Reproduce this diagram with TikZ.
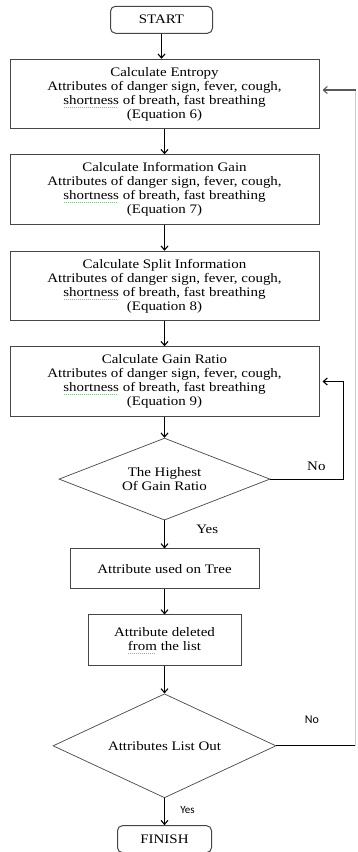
\documentclass[tikz,border=0pt]{standalone}
\usepackage{fontspec}
\setmainfont[FakeStretch=1.15]{Liberation Serif}
\newfontfamily\labelsans{Carlito}
\usepackage{xcolor}
\usetikzlibrary{shapes.geometric, arrows.meta, positioning}
\definecolor{boxgray}{RGB}{70, 70, 70}
\definecolor{loopgray}{RGB}{205, 205, 205}
\definecolor{spellgreen}{RGB}{130, 195, 130}
\newlength{\spellwd}
\newcommand{\spellmark}[1]{\settowidth{\spellwd}{#1}\rlap{\textcolor{spellgreen}{\raisebox{-3pt}{\hbox to\spellwd{\leaders\hbox to 2pt{\hss\vrule width 1pt height 0.6pt\hss}\hfill}}}}#1}

\begin{document}
\begin{tikzpicture}[
    x=1pt, y=-1pt,
    node distance=25pt,
    font=\fontsize{13}{14}\selectfont,
    box/.style={rectangle, draw=boxgray, line width=1pt, minimum width=309pt, minimum height=69.5pt, text centered, align=center, inner sep=2pt},
    term/.style={box, rounded corners=5pt, minimum height=27pt},
    decision/.style={diamond, draw=boxgray, line width=0.7pt, align=center, inner sep=1pt},
    arrow/.style={-{Straight Barb[length=4pt, width=7pt]}, line width=1.1pt},
    link/.style={line width=1.1pt}
]

\useasboundingbox (0,0) rectangle (357,852);

\node[box] (entropy) at (164.5,94) {Calculate Entropy\\Attributes of danger sign, fever, cough,\\\spellmark{shortness} of breath, fast breathing\\(Equation 6)};
\node[term, minimum width=102pt, above=25pt of entropy, xshift=-3pt] (start) {START};
\node[box, below=25pt of entropy] (infogain) {Calculate Information Gain\\Attributes of danger sign, fever, cough,\\\spellmark{shortness} of breath, fast breathing\\(Equation 7)};
\node[box, below=26pt of infogain] (split) {Calculate Split Information\\Attributes of danger sign, fever, cough,\\\spellmark{shortness} of breath, fast breathing\\(Equation 8)};
\node[box, below=25pt of split] (gain) {Calculate Gain Ratio\\Attributes of danger sign, fever, cough,\\\spellmark{shortness} of breath, fast breathing\\(Equation 9)};
\node[decision, aspect=2.6, minimum width=211pt, minimum height=82pt, below=21pt of gain] (highest) {The Highest\\Of Gain Ratio};
\node[box, minimum width=189pt, minimum height=40pt, below=28pt of highest] (tree) {Attribute used on Tree};
\node[box, minimum width=153pt, minimum height=51pt, below=25pt of tree] (deleted) {Attribute deleted\\\spellmark{from} the list};
\node[decision, aspect=2.15, minimum width=223pt, minimum height=104pt, below=27pt of deleted] (listout) {Attributes List Out};
\node[term, minimum width=94pt, below=27pt of listout] (finish) {FINISH};

\coordinate (outer) at (355.5,90);

\draw[arrow] (start.south) -- (start.south |- entropy.north);
\draw[arrow] (entropy) -- (infogain);
\draw[arrow] (infogain) -- (split);
\draw[arrow] (split) -- (gain);
\draw[arrow] (gain) -- (highest);
\draw[arrow] (highest) -- node[right=28pt, pos=0.3] {Yes} (tree);
\draw[arrow] (tree) -- (deleted);
\draw[arrow] (deleted) -- (listout);
\draw[arrow] (listout) -- node[right=12pt, pos=0.45, font=\labelsans\fontsize{11}{12}\selectfont] {Yes} (finish);

\draw[arrow, shorten >=3pt] (highest.east) -- node[above=5pt, pos=0.63] {No} ++(73,0) |- (gain.east);

\draw[link] (listout.east) -- node[above=18pt, pos=0.45, font=\labelsans\fontsize{12}{13}\selectfont] {No} (listout.east -| outer);
\draw[loopgray, line width=1pt] (listout.east -| outer) -- (outer);
\draw[arrow, black!65, shorten >=3pt] (outer) -- (entropy.east |- outer);

\end{tikzpicture}
\end{document}
